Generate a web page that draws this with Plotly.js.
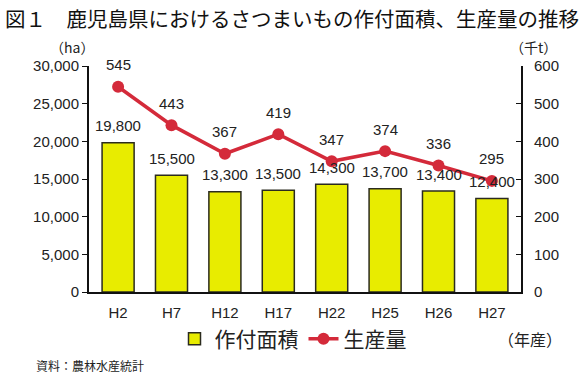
<!DOCTYPE html>
<html><head><meta charset="utf-8">
<script src="https://cdn.plot.ly/plotly-3.0.1.min.js"></script>
<style>html,body{margin:0;padding:0;background:#fff}#c{width:585px;height:381px}</style>
</head><body><div id="c"></div>
<script>
const years = ['H2','H7','H12','H17','H22','H25','H26','H27'];
const area = [19800,15500,13300,13500,14300,13700,13400,12400];
const production = [545,443,367,419,347,374,336,295];

const F = 'Liberation Sans, Arial, Noto Sans CJK JP, sans-serif';
const J = 'Noto Sans CJK JP, sans-serif';
const L = 89, R = 64, T = 66, B = 89, W = 585, H = 381;
const pw = W - L - R, ph = H - T - B;
const px = v => (v - L) / pw;
const py = v => (H - B - v) / ph;

const traces = [
  {type:'bar', name:'作付面積', x:years, y:area, width:0.6,
   marker:{color:'#e8ec00', line:{color:'#2b2b1e', width:1.5}}, hoverinfo:'skip'},
  {type:'scatter', mode:'lines+markers', name:'生産量', x:years, y:production, yaxis:'y2',
   line:{color:'#d42a3a', width:3.5}, marker:{color:'#d42a3a', size:12}, hoverinfo:'skip'}
];

const ann = [];
years.forEach((c,i)=>{
  ann.push({x:c, y:area[i], xref:'x', yref:'y', text:area[i].toLocaleString('en-US'),
    showarrow:false, yanchor:'middle', yshift:17, font:{family:F, size:15, color:'#222'}});
  ann.push({x:c, y:production[i], xref:'x', yref:'y2', text:String(production[i]),
    showarrow:false, yanchor:'middle', yshift:22, font:{family:F, size:15, color:'#222'}});
});
ann.push({text:'（ha）', xref:'paper', yref:'paper', x:px(72), y:py(47), xanchor:'center', yanchor:'middle', showarrow:false, font:{family:J, size:14, color:'#222'}});
ann.push({text:'（千t）', xref:'paper', yref:'paper', x:px(533), y:py(47), xanchor:'center', yanchor:'middle', showarrow:false, font:{family:J, size:14, color:'#222'}});
ann.push({text:'（年産）', xref:'paper', yref:'paper', x:px(530), y:py(339), xanchor:'center', yanchor:'middle', showarrow:false, font:{family:J, size:16, color:'#222'}});
ann.push({text:'資料：農林水産統計', xref:'paper', yref:'paper', x:px(34), xanchor:'left', y:py(365), yanchor:'middle', showarrow:false, font:{family:J, size:12, color:'#222'}});

const layout = {
  width:W, height:H,
  margin:{l:L, r:R, t:T, b:B},
  paper_bgcolor:'#fff', plot_bgcolor:'#fff',
  title:{text:'図１　鹿児島県におけるさつまいもの作付面積、生産量の推移', x:5/585, xanchor:'left', y:1-20/381, yanchor:'middle',
    font:{family:J, size:20.5, color:'#111', weight:400}},
  showlegend:true,
  legend:{orientation:'h', x:px(293), xanchor:'center', y:py(339), yanchor:'middle',
    font:{family:J, size:21, color:'#222'}, bgcolor:'rgba(0,0,0,0)', traceorder:'normal'},
  xaxis:{type:'category', showline:true, linecolor:'#111', linewidth:2, ticks:'', showgrid:false,
    ticklabelstandoff:6, tickfont:{family:F, size:15, color:'#222'}, zeroline:false},
  yaxis:{range:[0,30000], dtick:5000, tickformat:',d', showline:true, linecolor:'#111', linewidth:2,
    ticks:'outside', ticklen:5, tickcolor:'#111', showgrid:false, zeroline:false,
    tickfont:{family:F, size:15, color:'#222'}},
  yaxis2:{range:[0,600], dtick:100, overlaying:'y', side:'right', showline:true, linecolor:'#111', linewidth:2,
    ticks:'inside', ticklen:5, tickcolor:'#111', showgrid:false, zeroline:false, ticklabelstandoff:8,
    tickfont:{family:F, size:15, color:'#222'}},
  annotations:ann
};
Plotly.newPlot('c', traces, layout, {displayModeBar:false, staticPlot:true});
</script></body></html>
